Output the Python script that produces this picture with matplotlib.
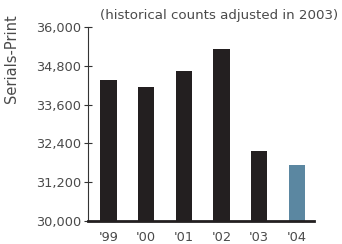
import matplotlib
matplotlib.use("Agg")
import matplotlib.pyplot as plt

years = ["'99", "'00", "'01", "'02", "'03", "'04"]
counts = [34350, 34140, 34640, 35310, 32160, 31740]
colors = ['#231f20'] * 5 + ['#5b87a1']
yticks = [30000, 31200, 32400, 33600, 34800, 36000]

text_color = '#4a4a4a'

fig = plt.figure(figsize=(3.42, 2.44), dpi=100)
ax = fig.add_axes([0.257, 0.094, 0.661, 0.795])

x = list(range(len(years)))
ax.bar(x, counts, width=0.43, color=colors, zorder=2)

ax.set_ylim(30000, 36000)
ax.set_xlim(-0.55, 5.46)
ax.set_yticks(yticks)
ax.set_yticklabels([f"{v:,}" for v in yticks], color=text_color, fontsize=9.3)
ax.set_xticks(x)
ax.set_xticklabels(years, color=text_color, fontsize=9.3)

ax.spines['top'].set_visible(False)
ax.spines['right'].set_visible(False)
ax.spines['left'].set_linewidth(0.8)
ax.spines['left'].set_color('#333333')
ax.spines['bottom'].set_linewidth(2)
ax.spines['bottom'].set_color('#231f20')
ax.tick_params(axis='y', direction='inout', length=6, width=0.8, color='#333333', pad=2)
ax.tick_params(axis='x', length=0, pad=7)

fig.text(12 / 342, 1 - 59 / 244, "Serials-Print", rotation=90, ha='center', va='center',
         color=text_color, fontsize=10.5)
fig.text(219 / 342, 1 - 16 / 244, "(historical counts adjusted in 2003)", ha='center',
         va='center', color=text_color, fontsize=9.6)

fig.savefig("out.png", dpi=100)
